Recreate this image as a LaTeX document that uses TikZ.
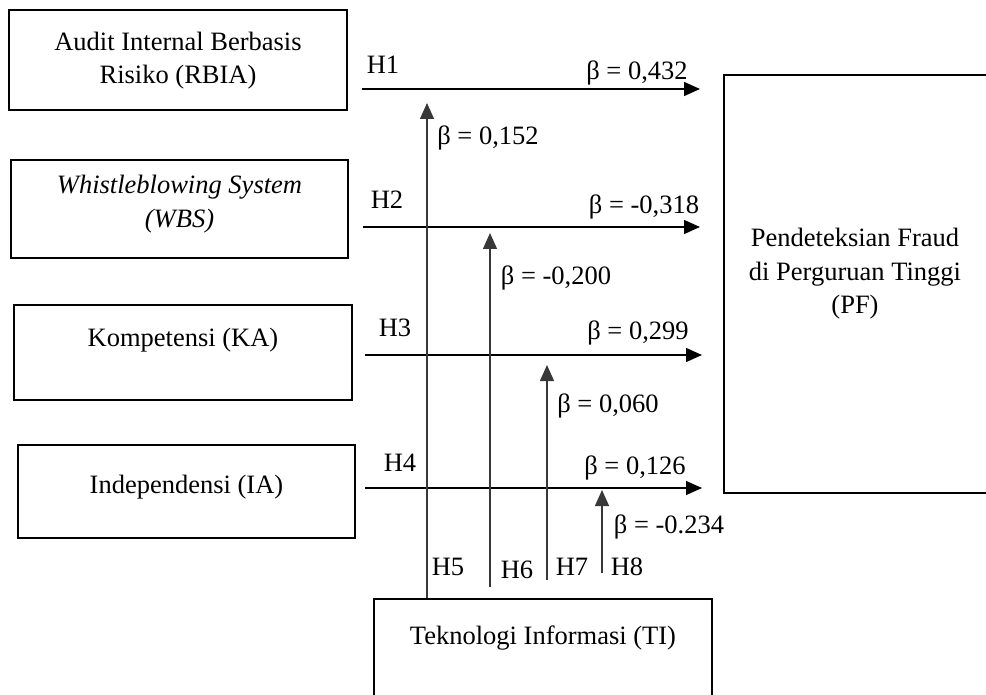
\documentclass[tikz,border=0pt]{standalone}
\usepackage{fontspec}
\setmainfont{Liberation Serif}
\usetikzlibrary{arrows.meta}
\begin{document}
\begin{tikzpicture}[x=1pt,y=-1pt,
  box/.style={draw=black, line width=2.2pt, inner sep=0pt},
  txt/.style={font=\fontsize{26.5}{33.5}\selectfont, inner sep=0pt, align=center},
  harr/.style={line width=1.4pt, draw=black, -{Triangle[length=16pt,width=14pt]}},
  varr/.style={line width=1.4pt, draw=black!78, -{Triangle[length=16pt,width=14pt]}}]
\useasboundingbox (0,0) rectangle (986,695);
\clip (0,0) rectangle (986,695);

% boxes
\node[box, minimum width=338pt, minimum height=100pt] (rbia) at (178,60) {};
\node[box, minimum width=337pt, minimum height=98pt] (wbs) at (179.5,209) {};
\node[box, minimum width=338pt, minimum height=95pt] (ka) at (183,352.5) {};
\node[box, minimum width=337pt, minimum height=93pt] (ia) at (186.5,491.5) {};
\node[box, minimum width=290pt, minimum height=418pt] (pf) at (869,284) {};
\node[box, minimum width=338pt, minimum height=120pt] (ti) at (543,659) {};

% box texts
\node[txt] (rbiat) at (178,60.5) {Audit Internal Berbasis\\Risiko (RBIA)};
\node[txt] (wbst) at (179.5,204) {\itshape Whistleblowing System\\\itshape (WBS)};
\node[txt] (kat) at (183,340) {Kompetensi (KA)};
\node[txt] (iat) at (186.5,487) {Independensi (IA)};
\node[txt] (pft) at (855,274) {Pendeteksian Fraud\\di Perguruan Tinggi\\(PF)};
\node[txt] (tit) at (543,638) {Teknologi Informasi (TI)};

% horizontal arrow end points
\coordinate (h1s) at (362,89);  \coordinate (h1e) at (700,89);
\coordinate (h2s) at (363,227); \coordinate (h2e) at (700,227);
\coordinate (h3s) at (365,355); \coordinate (h3e) at (702,355);
\coordinate (h4s) at (365,488); \coordinate (h4e) at (702,488);
\draw[harr] (h1s) -- (h1e);
\draw[harr] (h2s) -- (h2e);
\draw[harr] (h3s) -- (h3e);
\draw[harr] (h4s) -- (h4e);

% vertical arrows
\coordinate (h5e) at (427,103);
\coordinate (h6s) at (490,587); \coordinate (h6e) at (490,233);
\coordinate (h7s) at (547,580); \coordinate (h7e) at (547,365);
\coordinate (h8s) at (602,573); \coordinate (h8e) at (602,490);
\draw[varr] (ti.north -| h5e) -- (h5e);
\draw[varr] (h6s) -- (h6e);
\draw[varr] (h7s) -- (h7e);
\draw[varr] (h8s) -- (h8e);

% H labels
\node[txt] (lh1) at (383,65) {H1};
\node[txt] (lh2) at (387,200) {H2};
\node[txt] (lh3) at (395,328) {H3};
\node[txt] (lh4) at (400,463) {H4};
\node[txt] (lh5) at (448,567) {H5};
\node[txt] (lh6) at (517,570) {H6};
\node[txt] (lh7) at (572,567) {H7};
\node[txt] (lh8) at (627,567) {H8};

% beta labels
\node[txt] (b1) at (637,73) {β = 0,432};
\node[txt] (b2) at (644,207) {β = -0,318};
\node[txt] (b3) at (638,333) {β = 0,299};
\node[txt] (b4) at (635,468) {β = 0,126};
\node[txt] (b5) at (488,138) {β = 0,152};
\node[txt] (b6) at (556,278) {β = -0,200};
\node[txt] (b7) at (608,406) {β = 0,060};
\node[txt] (b8) at (669,527) {β = -0.234};
\end{tikzpicture}
\end{document}
